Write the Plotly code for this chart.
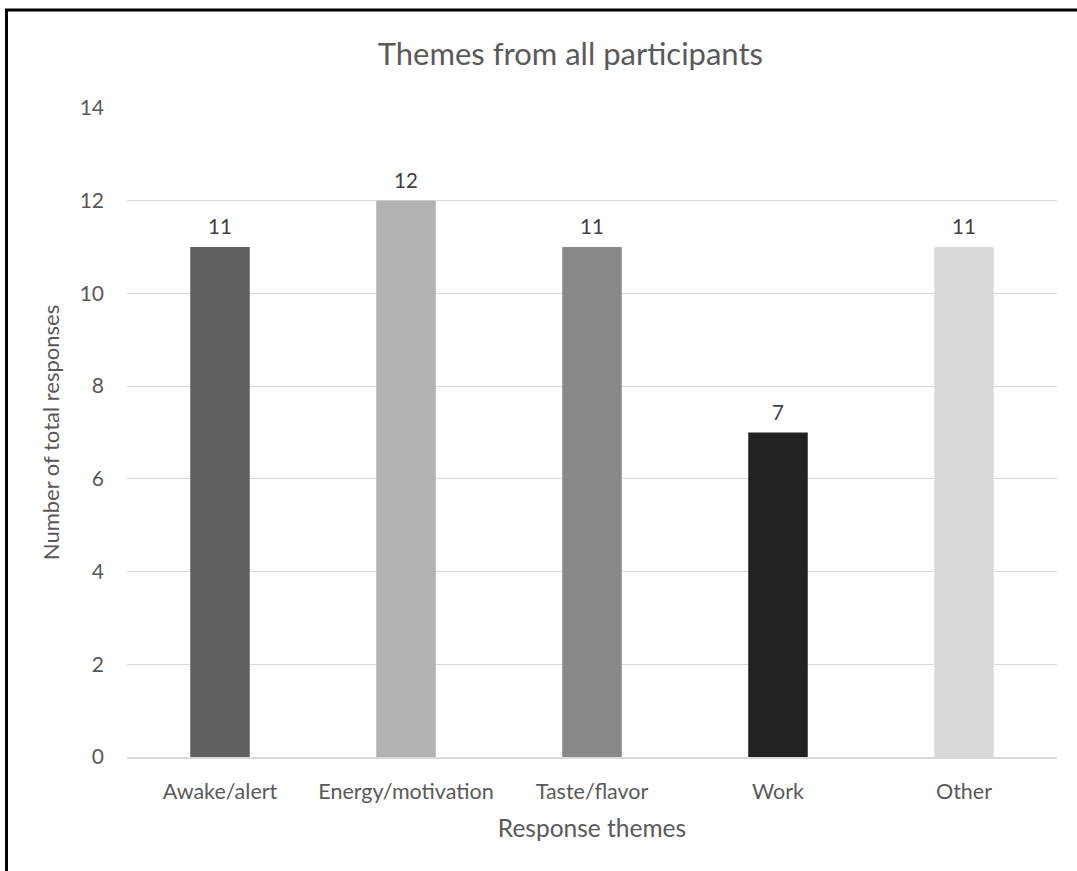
import plotly.graph_objects as go

categories = ["Awake/alert", "Energy/motivation", "Taste/flavor", "Work", "Other"]
responses = [11, 12, 11, 7, 11]
bar_colors = ["#606060", "#b2b2b2", "#888888", "#222222", "#d9d9d9"]
y_ticks = [0, 2, 4, 6, 8, 10, 12, 14]

FONT = "Lato, 'Open Sans', sans-serif"
TXT = "#595959"

W, H = 1077, 871
L, R, T, B = 127, 20, 108, 114
pw, ph = W - L - R, H - T - B

fig = go.Figure()
fig.add_trace(go.Bar(
    x=categories, y=responses,
    marker=dict(color=bar_colors, line=dict(width=0)),
    cliponaxis=False, width=0.32, hoverinfo="x+y",
))

# data labels placed through the data axes
for c, v in zip(categories, responses):
    fig.add_annotation(x=c, y=v, xref="x", yref="y", text=str(v), showarrow=False,
                       yanchor="middle", yshift=21,
                       font=dict(family=FONT, size=20.5, color="#404040"))

fig.update_layout(
    width=W, height=H,
    margin=dict(l=L, r=R, t=T, b=B),
    paper_bgcolor="white", plot_bgcolor="white",
    font=dict(family=FONT, color=TXT),
    title=dict(text="Themes from all participants", x=763 / W, xref="container", xanchor="right",
               y=1 - 54 / H, yanchor="middle", font=dict(size=31, color=TXT, family=FONT)),
    showlegend=False,
    xaxis=dict(
        showgrid=False, showline=True, linecolor="#d9d9d9", linewidth=1.5,
        tickfont=dict(size=21.5, color=TXT), ticks="", ticklabelstandoff=14,
        title=dict(text="Response themes", font=dict(size=24.5, color=TXT), standoff=17),
    ),
    yaxis=dict(
        range=[0, 14], tickvals=y_ticks, showgrid=True, gridcolor="#d9d9d9", gridwidth=1.3,
        zeroline=False, showline=False, ticks="", ticklabelstandoff=22,
        tickfont=dict(size=21, color=TXT),
        title=dict(text="Number of total responses", font=dict(size=22, color=TXT), standoff=13),
    ),
)

# outer frame (left and top edges visible; right/bottom beyond the image)
fig.add_shape(type="rect", xref="paper", yref="paper",
              x0=(6.5 - L) / pw, x1=(W + 20 - L) / pw,
              y0=(H - B - (H + 20)) / ph, y1=(H - B - 10) / ph,
              line=dict(color="black", width=3), fillcolor="rgba(0,0,0,0)", layer="above")

fig.write_html("out.html")
